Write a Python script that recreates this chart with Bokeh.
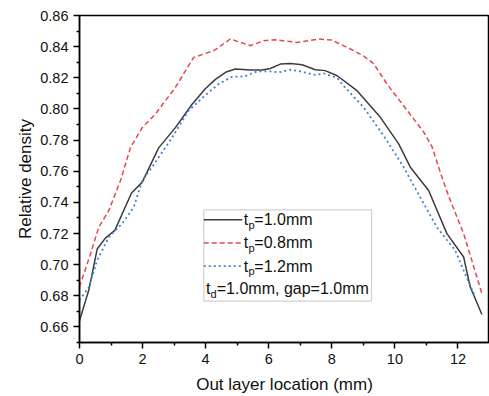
from bokeh.plotting import figure
from bokeh.models import Range1d, FixedTicker, NumeralTickFormatter, Label, BoxAnnotation
from bokeh.embed import file_html
from bokeh.resources import INLINE

# ---- data ----
x_tp10 = [0, 0.3, 0.56, 0.82, 1.12, 1.65, 1.99, 2.51, 3.04, 3.57, 3.99, 4.31, 4.63, 4.94, 5.42, 5.79,
          6.05, 6.37, 6.69, 7.06, 7.48, 7.79, 8.17, 8.8, 9.54, 10.12, 10.49, 11.07, 11.65, 12.18, 12.39, 12.76]
y_tp10 = [0.664, 0.684, 0.710, 0.717, 0.722, 0.746, 0.753, 0.775, 0.788, 0.803, 0.813, 0.819, 0.8235, 0.8256,
          0.825, 0.825, 0.826, 0.8288, 0.8292, 0.8284, 0.8252, 0.8246, 0.8213, 0.8117, 0.7946, 0.7776, 0.7626,
          0.7476, 0.7199, 0.7049, 0.6856, 0.668]

x_tp08 = [0, 0.35, 0.61, 0.93, 1.3, 1.62, 1.99, 2.41, 3.04, 3.62, 4.26, 4.78, 5.42, 5.84, 6.21, 6.9, 7.58,
          8.0, 8.59, 9.01, 9.33, 9.75, 10.39, 10.92, 11.18, 11.45, 11.71, 12.18, 12.76]
y_tp08 = [0.6857, 0.707, 0.724, 0.7348, 0.754, 0.7754, 0.788, 0.7968, 0.8138, 0.8331, 0.8374, 0.8449, 0.8406,
          0.8438, 0.8444, 0.8427, 0.8449, 0.8442, 0.8385, 0.834, 0.829, 0.816, 0.799, 0.785, 0.7756, 0.7586,
          0.7437, 0.7199, 0.6814]

x_tp12 = [0, 0.3, 0.56, 0.93, 1.35, 1.72, 1.99, 2.3, 2.94, 3.46, 3.94, 4.41, 4.84, 5.21, 5.63, 6.05, 6.32,
          6.69, 7.0, 7.48, 7.74, 8.17, 8.37, 9.01, 9.64, 10.28, 10.8, 11.33, 11.91, 12.18, 12.55]
y_tp12 = [0.6771, 0.6857, 0.7028, 0.7177, 0.7263, 0.7369, 0.754, 0.7626, 0.7818, 0.7989, 0.8079, 0.816,
          0.8207, 0.8207, 0.8241, 0.8241, 0.8235, 0.8252, 0.8241, 0.8218, 0.8228, 0.8199, 0.8149, 0.801,
          0.7829, 0.7626, 0.7433, 0.7241, 0.7092, 0.6963, 0.6792]

x_ticks = [0, 2, 4, 6, 8, 10, 12]
x_minor = [1, 3, 5, 7, 9, 11]
y_ticks = [0.66, 0.68, 0.70, 0.72, 0.74, 0.76, 0.78, 0.80, 0.82, 0.84, 0.86]
y_minor = [0.65, 0.67, 0.69, 0.71, 0.73, 0.75, 0.77, 0.79, 0.81, 0.83, 0.85]

legend_labels = ["=1.0mm", "=0.8mm", "=1.2mm"]
legend_note = ["t", "d", "=1.0mm, gap=1.0mm"]

C_BLACK = "#3c3c3c"
C_RED = "#e8474c"
C_BLUE = "#3f80d8"
FONT = "Liberation Sans"
DASH_RED = "5 3"
DASH_BLUE = "2 3"

p = figure(width=489, height=396, output_backend="svg", toolbar_location=None,
           x_range=Range1d(0, 13), y_range=Range1d(0.65, 0.86),
           min_border_left=79, min_border_right=0, min_border_top=15, min_border_bottom=53)
p.background_fill_color = "white"
p.border_fill_color = "white"
p.outline_line_color = "black"
p.outline_line_width = 1.5
p.grid.visible = False

p.xaxis.ticker = FixedTicker(ticks=x_ticks, minor_ticks=x_minor)
p.yaxis.ticker = FixedTicker(ticks=y_ticks, minor_ticks=y_minor)
p.yaxis.formatter = NumeralTickFormatter(format="0.00")
for ax in (p.xaxis[0], p.yaxis[0]):
    ax.axis_line_color = "black"
    ax.axis_line_width = 1.5
    ax.major_tick_line_color = "black"
    ax.major_tick_line_width = 1.5
    ax.minor_tick_line_color = "black"
    ax.minor_tick_line_width = 1.5
    ax.major_tick_out = 6
    ax.major_tick_in = 0
    ax.minor_tick_out = 3
    ax.minor_tick_in = 0
    ax.major_label_text_font = FONT
    ax.major_label_text_font_size = "14.5px"
    ax.major_label_text_color = "#111111"
    ax.axis_label_text_font = FONT
    ax.axis_label_text_font_size = "17px"
    ax.axis_label_text_font_style = "normal"
    ax.axis_label_text_color = "#111111"
    ax.major_label_standoff = 5
p.xaxis.axis_label = "Out layer location (mm)"
p.yaxis.axis_label = "Relative density"
p.xaxis.axis_label_standoff = 8
p.yaxis.axis_label_standoff = 2

p.line(x_tp10, y_tp10, line_color=C_BLACK, line_width=1.5)
p.line(x_tp08, y_tp08, line_color=C_RED, line_width=1.5, line_dash=DASH_RED)
p.line(x_tp12, y_tp12, line_color=C_BLUE, line_width=1.8, line_dash=DASH_BLUE)

# ---- legend (manual, to allow subscripts) ----
lx0, lx1 = 3.94, 9.26
ly0, ly1 = 0.6766, 0.7352
p.add_layout(BoxAnnotation(left=lx0, right=lx1, bottom=ly0, top=ly1, fill_color="white", fill_alpha=1.0,
                           line_color="#666666", line_width=1.2, level="underlay"))
rows = [0.7288, 0.7139, 0.6990]
styles = [(C_BLACK, None, 1.5), (C_RED, DASH_RED, 1.5), (C_BLUE, DASH_BLUE, 1.8)]
sx0, sx1 = 3.94, 5.16
tx = 5.21
for ry, lab, (col, dash, lw) in zip(rows, legend_labels, styles):
    kw = dict(line_color=col, line_width=lw)
    if dash:
        kw["line_dash"] = dash
    p.line([sx0, sx1], [ry, ry], **kw)
    p.add_layout(Label(x=tx, y=ry, text="t", text_font=FONT, text_font_size="16px",
                       text_baseline="middle", text_color="#111111"))
    p.add_layout(Label(x=tx, y=ry, x_offset=4.6, y_offset=-5, text="p", text_font=FONT,
                       text_font_size="11px", text_baseline="middle", text_color="#111111"))
    p.add_layout(Label(x=tx, y=ry, x_offset=10.5, text=lab, text_font=FONT, text_font_size="16px",
                       text_baseline="middle", text_color="#111111"))
ry4 = 0.6845
tx4 = 4.01
p.add_layout(Label(x=tx4, y=ry4, text=legend_note[0], text_font=FONT, text_font_size="16px",
                   text_baseline="middle", text_color="#111111"))
p.add_layout(Label(x=tx4, y=ry4, x_offset=4.6, y_offset=-5, text=legend_note[1], text_font=FONT,
                   text_font_size="11px", text_baseline="middle", text_color="#111111"))
p.add_layout(Label(x=tx4, y=ry4, x_offset=10.8, text=legend_note[2], text_font=FONT, text_font_size="16px",
                   text_baseline="middle", text_color="#111111"))

open("out.html", "w").write(file_html(p, INLINE))
